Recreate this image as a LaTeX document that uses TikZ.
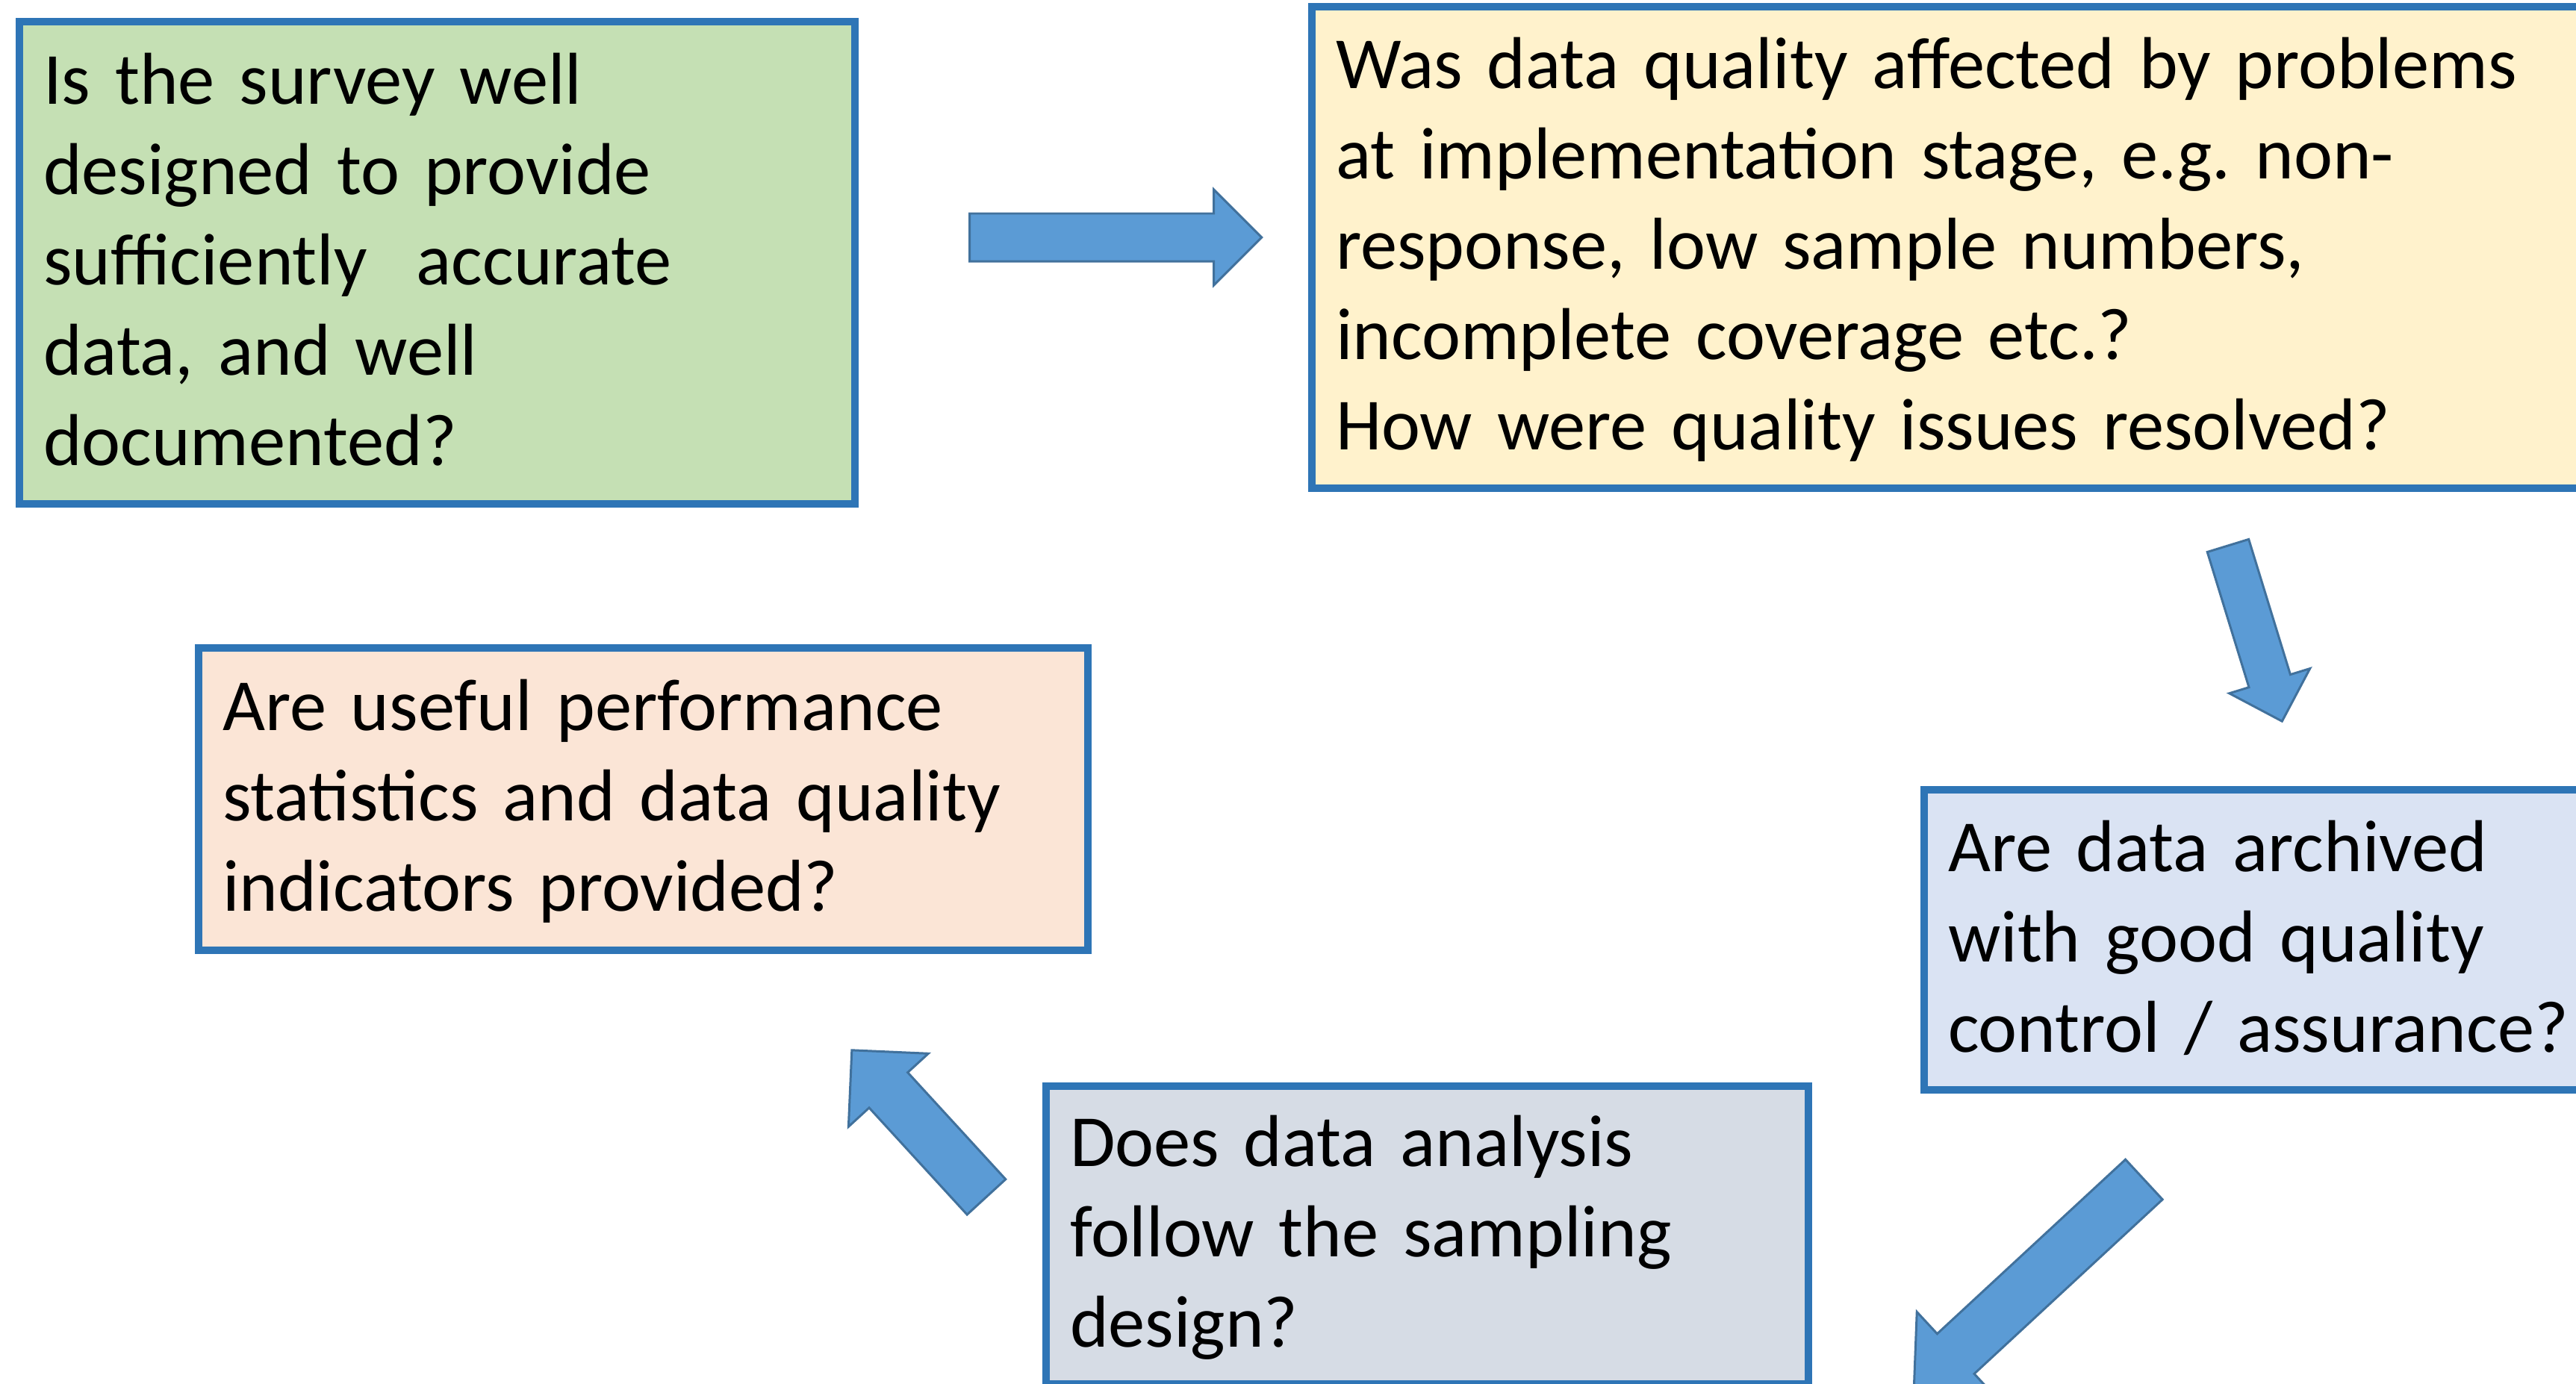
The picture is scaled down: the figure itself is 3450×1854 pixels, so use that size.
\documentclass[tikz,border=0pt]{standalone}
\usepackage{fontspec}
\setmainfont{Carlito}
\usetikzlibrary{shapes.arrows}

\definecolor{boxline}{HTML}{2E75B6}
\definecolor{greenfill}{HTML}{C5E0B4}
\definecolor{yellowfill}{HTML}{FFF2CC}
\definecolor{bluefill}{HTML}{DAE3F3}
\definecolor{grayfill}{HTML}{D6DCE5}
\definecolor{pinkfill}{HTML}{FBE5D6}
\definecolor{arrowfill}{HTML}{5B9BD5}
\definecolor{arrowline}{HTML}{41719C}

\newcommand{\qfont}{\fontsize{28pt}{34.4pt}\selectfont\frenchspacing}
\newcommand{\qtop}{\rule{0pt}{25.5pt}}
\newcommand{\qbot}{\rule[-8.9pt]{0pt}{0pt}}

\tikzset{
  qbox/.style 2 args={rectangle, draw=boxline, line width=2.85pt,
    anchor=north west, inner xsep=0.32cm, inner ysep=0pt,
    text width=#1, minimum height=#2, align=left, font=\qfont,
    execute at begin node=\qtop, execute at end node=\qbot},
  flowarrow/.style n args={3}{single arrow, draw=arrowline, fill=arrowfill,
    line width=0.85pt, anchor=tail, inner xsep=0pt,
    minimum height=#1, inner ysep=#2, single arrow head extend=#3},
}

\begin{document}
\begin{tikzpicture}[x=0.01cm, y=-0.01cm]
  % Page
  \fill[white] (0,0) rectangle (3450,1854);
  \useasboundingbox (0,0) rectangle (3450,1854);
  \clip (0,0) rectangle (3450,1854);

  % Questions
  \node[qbox={10.54cm}{6.46cm}, fill=greenfill] (survey) at (21,24)
    {Is the survey well\\ designed to provide\\ sufficiently~ accurate\\ data, and well\\ documented?};
  \node[qbox={16.5cm}{6.45cm}, fill=yellowfill] (impl) at (1752,4)
    {Was data quality affected by problems\\ at implementation stage, e.g. non-\\ response, low sample numbers,\\ incomplete coverage etc.?\\ How were quality issues resolved?};
  \node[qbox={9cm}{4.02cm}, fill=bluefill] (archive) at (2572,1053)
    {Are data archived\\ with good quality\\ control / assurance?};
  \node[qbox={9.56cm}{3.99cm}, fill=grayfill] (analysis) at (1396,1450)
    {Does data analysis\\ follow the sampling\\ design?};
  \node[qbox={11.26cm}{4.05cm}, fill=pinkfill] (indicators) at (261,863)
    {Are useful performance\\ statistics and data quality\\ indicators provided?};

  % Block arrows
  \node[flowarrow={3.91cm}{.305cm}{.32cm}] (toimpl) at (1297,318) {};
  \node[flowarrow={2.46cm}{.275cm}{.275cm}, rotate=-72.9] (toarchive) at (2983.5,729.5) {};
  \node[flowarrow={4.2cm}{.35cm}{.4cm}, rotate=-137.2] (toanalysis) at (2872.5,1579) {};
  \node[flowarrow={2.665cm}{.335cm}{.375cm}, rotate=132.5] (toindicators) at (1322,1604.5) {};
\end{tikzpicture}
\end{document}
